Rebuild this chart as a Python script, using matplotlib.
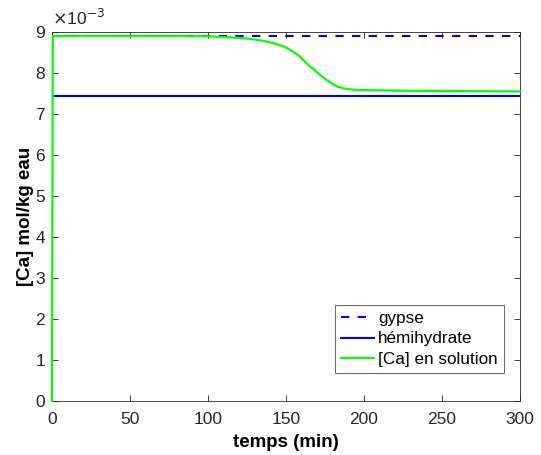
import matplotlib
matplotlib.use("Agg")
import matplotlib.pyplot as plt
from matplotlib.ticker import FuncFormatter

plt.rcParams['font.family'] = ['Liberation Sans', 'DejaVu Sans']

# Data (mol/kg eau)
t_gypse = [0, 300]
gypse = [8.91e-3, 8.91e-3]
t_hemi = [0, 300]
hemi = [7.44e-3, 7.44e-3]
t_ca = [0, 0.5, 50, 82, 100, 114, 125, 133, 140, 146, 150, 154.5, 159, 163, 168,
        172, 176, 180, 183, 186, 189, 193, 197, 220, 250, 300]
ca = [0, 8.90, 8.90, 8.90, 8.895, 8.87, 8.84, 8.80, 8.75, 8.68, 8.62, 8.52, 8.40,
      8.24, 8.08, 7.95, 7.83, 7.73, 7.67, 7.63, 7.61, 7.595, 7.585, 7.57, 7.56, 7.55]
ca = [v * 1e-3 for v in ca]
xticks = [0, 50, 100, 150, 200, 250, 300]
yticks = [i * 1e-3 for i in range(10)]

fig = plt.figure(figsize=(5.41, 4.55), dpi=100)
ax = fig.add_axes([52/541, 54/455, 468/541, 369/455])

ax.plot(t_gypse, gypse, color='#0000ff', lw=1.5, dashes=(4, 4), label='gypse', zorder=3)
ax.plot(t_hemi, hemi, color='#0000ff', lw=1.5, label='hémihydrate', zorder=3)
ax.plot(t_ca, ca, color='#00ff00', lw=1.6, label='[Ca] en solution', zorder=3,
        clip_on=False)

ax.set_xlim(0, 300)
ax.set_ylim(0, 9e-3)
ax.set_xticks(xticks)
ax.set_yticks(yticks)
ax.yaxis.set_major_formatter(FuncFormatter(lambda v, p: f"{v*1e3:.0f}"))
ax.tick_params(direction='in', top=True, right=True, labelsize=12.5,
               colors='#262626', length=4, width=0.6)
ax.tick_params(axis='x', pad=8)
ax.tick_params(axis='y', pad=5)
for s in ax.spines.values():
    s.set_color('#262626')
    s.set_linewidth(0.6)

ax.set_xlabel('temps (min)', fontsize=13.5, fontweight='bold', color='#000000', labelpad=5)
ax.set_ylabel('[Ca] mol/kg eau', fontsize=13.5, fontweight='bold', color='#000000', labelpad=1)
ax.text(0.0, 1.01, r'$\times$10$^{-3}$', transform=ax.transAxes, fontsize=12.5,
        color='#262626', ha='left', va='bottom')

leg = ax.legend(loc='lower right', bbox_to_anchor=(0.965, 0.077), fontsize=12.3,
                frameon=True, fancybox=False, borderpad=0.35, handlelength=1.9,
                handletextpad=0.25, labelspacing=0.3, borderaxespad=0)
leg.get_frame().set_edgecolor('#262626')
leg.get_frame().set_linewidth(0.6)

fig.savefig('out.png', dpi=100)
